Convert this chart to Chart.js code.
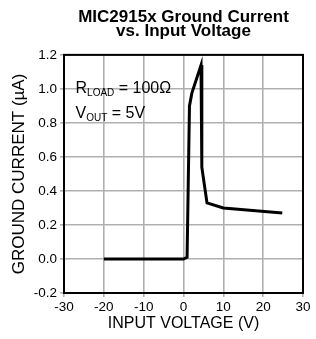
<!DOCTYPE html>
<html>
<head>
<meta charset="utf-8">
<script src="https://cdn.jsdelivr.net/npm/chart.js@4.4.0/dist/chart.umd.min.js"></script>
<style>
  html, body { margin: 0; padding: 0; background: #fff; }
  #wrap { width: 316px; height: 339px; }
</style>
</head>
<body>
<div id="wrap"><canvas id="chart" width="316" height="339"></canvas></div>
<script>
// input voltage (V) and ground current (uA)
var voltage = [-20, 0, 0.9, 1.5, 2.1, 4.4, 4.6, 5.9, 10, 24.8];
var current = [0, 0, 0.01, 0.9, 0.975, 1.14, 0.54, 0.33, 0.30, 0.27];
var xTicks = [-30, -20, -10, 0, 10, 20, 30];
var yTicks = [-0.2, 0, 0.2, 0.4, 0.6, 0.8, 1.0, 1.2];

var points = [];
for (var i = 0; i < voltage.length; i++) {
    points.push({ x: voltage[i], y: current[i] });
}

var FONT = '"Liberation Sans", Arial, sans-serif';

// box round the plot (chart.js only draws left/bottom borders)
var framePlugin = {
    id: 'frame',
    afterDatasetsDraw: function(chart) {
        var a = chart.chartArea, ctx = chart.ctx;
        ctx.save();
        ctx.strokeStyle = '#000';
        ctx.lineWidth = 2;
        ctx.strokeRect(a.left, a.top, a.right - a.left, a.bottom - a.top);
        ctx.restore();
    }
};

// the R_LOAD / V_OUT note inside the plot
var notePlugin = {
    id: 'note',
    afterDraw: function(chart) {
        var ctx = chart.ctx;
        var xs = chart.scales.x, ys = chart.scales.y;
        var x = xs.getPixelForValue(-27.1);
        var y1 = ys.getPixelForValue(0.976);
        var y2 = ys.getPixelForValue(0.829);
        ctx.save();
        ctx.fillStyle = '#000';
        ctx.textBaseline = 'alphabetic';
        var big = '16px ' + FONT;
        var small = '10px ' + FONT;
        function line(main, sub, rest, y) {
            var cx = x;
            ctx.font = big;
            ctx.fillText(main, cx, y);
            cx += ctx.measureText(main).width;
            ctx.font = small;
            ctx.fillText(sub, cx, y + 3.5);
            cx += ctx.measureText(sub).width;
            ctx.font = big;
            ctx.fillText(rest, cx, y);
        }
        line('R', 'LOAD', ' = 100\u03A9', y1);
        line('V', 'OUT', ' = 5V', y2);
        ctx.restore();
    }
};

new Chart(document.getElementById('chart').getContext('2d'), {
    type: 'scatter',
    data: {
        datasets: [{
            data: points,
            showLine: true,
            borderColor: '#000',
            borderWidth: 3,
            pointRadius: 0,
            tension: 0,
            fill: false
        }]
    },
    options: {
        responsive: false,
        animation: false,
        devicePixelRatio: 1,
        layout: { padding: { left: 0, right: 13, top: 0, bottom: 0 } },
        plugins: {
            legend: { display: false },
            tooltip: { enabled: false },
            title: {
                display: true,
                fullSize: false,
                text: ['MIC2915x Ground Current', 'vs. Input Voltage'],
                color: '#000',
                font: { family: FONT, size: 17, weight: 'bold', lineHeight: 0.82 },
                padding: { top: 10.5, bottom: 16.5 }
            }
        },
        scales: {
            x: {
                type: 'linear',
                min: -30,
                max: 30,
                afterBuildTicks: function(axis) {
                    axis.ticks = xTicks.map(function(v) { return { value: v }; });
                },
                afterFit: function(axis) { axis.height = 46; },
                ticks: {
                    color: '#000',
                    font: { family: FONT, size: 13.5 },
                    padding: 2,
                    maxRotation: 0,
                    callback: function(v) { return String(v); }
                },
                grid: { color: '#b0b0b0', lineWidth: 1.6, tickLength: 4 },
                border: { color: '#000', width: 2 },
                title: {
                    display: true,
                    text: 'INPUT VOLTAGE (V)',
                    color: '#000',
                    font: { family: FONT, size: 16 },
                    padding: { top: 0, bottom: 6 }
                }
            },
            y: {
                type: 'linear',
                min: -0.2,
                max: 1.2,
                afterBuildTicks: function(axis) {
                    axis.ticks = yTicks.map(function(v) { return { value: v }; });
                },
                afterFit: function(axis) { axis.width = 64; },
                ticks: {
                    color: '#000',
                    font: { family: FONT, size: 13.5 },
                    padding: 3,
                    callback: function(v) { return v.toFixed(1); }
                },
                grid: { color: '#b0b0b0', lineWidth: 1.6, tickLength: 4 },
                border: { color: '#000', width: 2 },
                title: {
                    display: true,
                    text: 'GROUND CURRENT (\u00B5A)',
                    color: '#000',
                    font: { family: FONT, size: 17 },
                    padding: { top: 9, bottom: 0 }
                }
            }
        }
    },
    plugins: [framePlugin, notePlugin]
});
</script>
</body>
</html>
